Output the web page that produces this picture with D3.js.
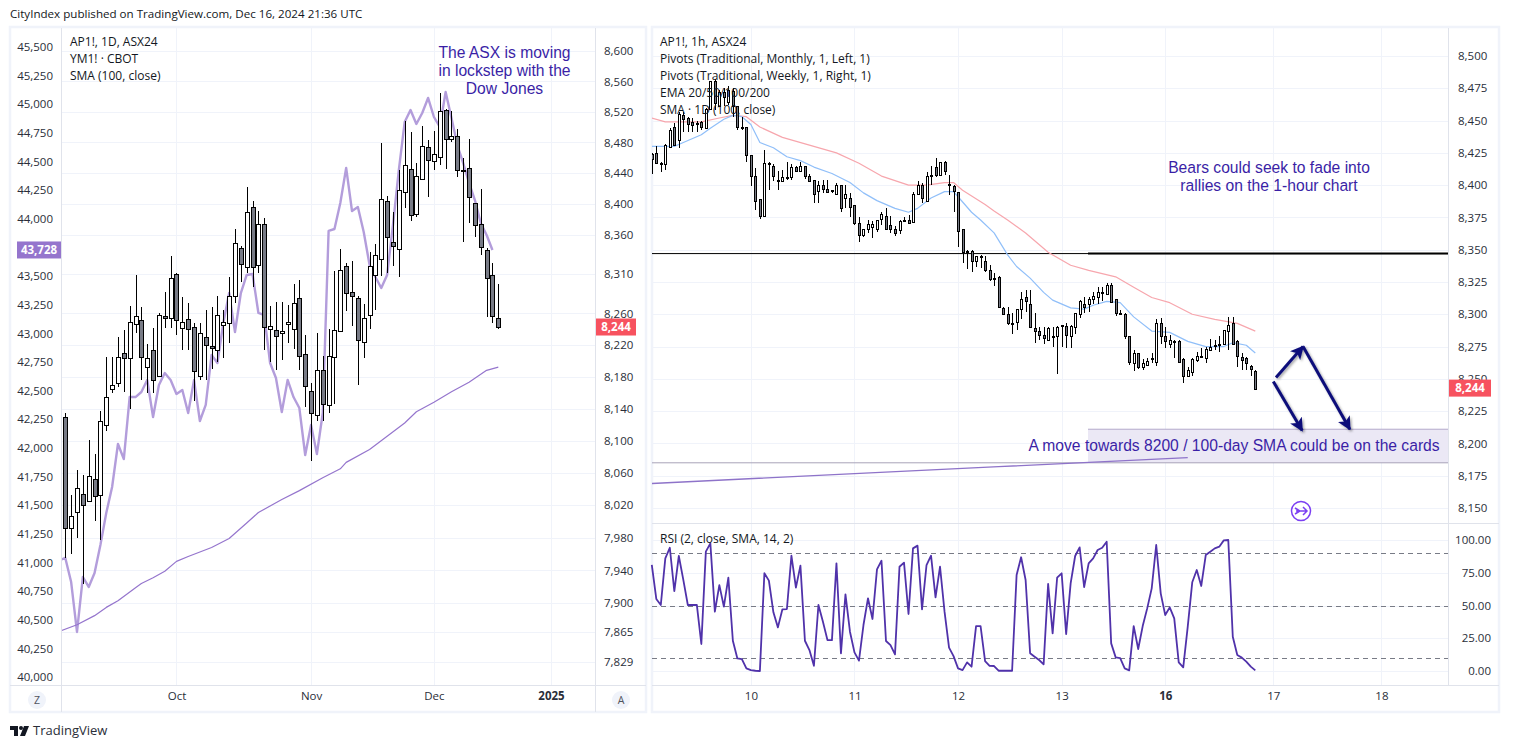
<!DOCTYPE html>
<html>
<head>
<meta charset="utf-8">
<script src="https://cdnjs.cloudflare.com/ajax/libs/d3/7.8.5/d3.min.js"></script>
<style>
    html, body { margin: 0; padding: 0; background: #fff; overflow: hidden; }
    text { font-family: "Open Sans", sans-serif; fill: #131722; }
    .axis text { font-size: 11.5px; fill: #2a2e39; }
    .note { font-family: "Liberation Sans", Arial, sans-serif; font-size: 15.65px; fill: #3a1fa6; }
    .legend { font-size: 12px; }
</style>
</head>
<body>
<div class="chart"></div>
<script>
// daily AP1! candles, one row per bar: open, high, low, close
const dailyOHLC = [
    [8130,8134,7955,7992],[7992,8032,7960,8007],[8012,8064,7980,8041],[8034,8057,7923,8020],[8025,8101,8025,8056],
    [8052,8084,8000,8031],[8033,8137,7977,8125],[8120,8205,8112,8155],[8165,8205,8160,8170],[8172,8230,8167,8205],
    [8210,8239,8161,8204],[8204,8269,8140,8249],[8247,8309,8235,8257],[8251,8268,8176,8204],[8193,8221,8160,8204],
    [8214,8242,8160,8176],[8181,8261,8180,8258],[8257,8287,8242,8254],[8254,8333,8242,8305],[8310,8312,8232,8251],
    [8242,8281,8214,8249],[8253,8273,8214,8240],[8243,8248,8149,8188],[8181,8248,8176,8235],[8230,8264,8176,8220],
    [8219,8268,8190,8216],[8214,8282,8198,8258],[8245,8264,8204,8249],[8248,8306,8223,8282],[8282,8368,8273,8350],
    [8344,8346,8300,8324],[8319,8422,8312,8390],[8396,8404,8294,8319],[8321,8391,8312,8374],[8374,8382,8214,8243],
    [8240,8269,8199,8244],[8239,8274,8189,8232],[8235,8274,8201,8238],[8247,8271,8223,8249],[8240,8298,8215,8273],
    [8280,8303,8188,8206],[8209,8233,8142,8169],[8162,8172,8075,8134],[8132,8235,8124,8188],[8189,8206,8125,8146],
    [8144,8240,8135,8206],[8205,8314,8146,8239],[8238,8342,8238,8315],[8321,8324,8263,8286],[8287,8327,8244,8282],
    [8280,8282,8169,8227],[8224,8272,8203,8254],[8258,8338,8240,8321],[8310,8349,8264,8335],[8329,8479,8308,8406],
    [8404,8410,8312,8357],[8351,8390,8321,8346],[8342,8444,8306,8418],[8415,8508,8395,8450],[8445,8494,8378,8386],
    [8387,8453,8383,8436],[8432,8501,8432,8475],[8474,8483,8409,8457],[8456,8495,8444,8465],[8461,8545,8450,8521],
    [8522,8524,8445,8484],[8484,8521,8480,8488],[8488,8497,8435,8444],[8444,8460,8351,8443],[8447,8484,8375,8409],
    [8402,8402,8357,8373],[8374,8420,8335,8344],[8341,8344,8255,8305],[8309,8324,8248,8257],[8254,8298,8240,8243]
];

// YM1! closes, first value is the bar before the chart edge
const ymClose = [
    41021,41039,40829,40393,40873,40786,40908,41152,41432,41659,42034,41903,42444,42444,42488,42593,42270,42549,42654,42593,
    42471,42506,42305,42593,42235,42375,42811,42741,43091,43352,43012,43352,43510,43518,43178,43160,42741,42610,42313,42593,
    42444,42348,41938,42200,41947,42305,43894,43911,44138,44444,44068,44103,43885,43597,43492,43396,43510,43946,44426,44845,
    44950,44828,44924,45055,44889,44802,45107,44880,44644,44487,44313,44164,43964,43859,43728
];

const smaBars = [-1,2,5,7,9,12,13,15,17,19,21,25,28,31,33,37,40,44,47,48,52,58,60,63,66,69,72,74];
const smaValues = [7866,7874,7885,7895,7903,7919,7924,7931,7939,7951,7957,7968,7979,7998,8011,8027,8038,8054,8065,8073,8089,8122,8136,8148,8161,8173,8188,8192];

// hourly AP1! candles: open, high, low, close
const hourlyOHLC = [
    [8424,8425,8409,8420],
    [8425,8430,8417,8417],[8417,8418,8410,8416],[8416,8432,8412,8431],[8430,8444,8430,8443],[8445,8448,8430,8431],
    [8435,8457,8429,8455],[8454,8457,8441,8451],[8452,8453,8441,8447],[8449,8452,8441,8447],[8448,8450,8441,8448],
    [8449,8450,8443,8445],[8444,8460,8444,8459],[8459,8481,8459,8481],[8481,8482,8458,8464],[8461,8474,8461,8472],
    [8472,8475,8461,8468],[8465,8477,8462,8474],[8473,8475,8453,8461],[8461,8461,8443,8445],[8445,8453,8443,8445],
    [8445,8445,8418,8423],[8423,8423,8399,8407],[8407,8413,8381,8388],[8389,8389,8374,8376],[8376,8427,8376,8417],
    [8417,8418,8396,8416],[8415,8416,8403,8407],[8404,8411,8396,8403],[8403,8412,8403,8406],[8406,8418,8404,8405],
    [8406,8416,8404,8414],[8414,8415,8410,8411],[8411,8418,8411,8415],[8415,8415,8405,8407],[8407,8409,8403,8403],
    [8404,8404,8386,8393],[8395,8403,8386,8400],[8400,8404,8394,8397],[8397,8404,8394,8395],[8396,8396,8394,8395],
    [8393,8402,8393,8400],[8400,8400,8379,8382],[8390,8400,8382,8393],[8390,8394,8375,8383],[8385,8385,8369,8371],
    [8371,8375,8356,8362],[8361,8366,8360,8366],[8366,8373,8363,8370],[8368,8372,8359,8370],[8366,8373,8364,8373],
    [8374,8379,8369,8378],[8376,8382,8366,8366],[8369,8376,8363,8366],[8366,8368,8361,8363],[8365,8373,8362,8372],
    [8373,8375,8372,8373],[8373,8377,8370,8371],[8371,8395,8371,8393],[8393,8403,8392,8400],[8400,8402,8386,8390],
    [8388,8410,8388,8407],[8407,8415,8400,8408],[8414,8421,8406,8408],[8408,8418,8408,8418],[8418,8419,8408,8411],
    [8401,8408,8392,8400],[8399,8400,8379,8395],[8395,8395,8352,8365],[8366,8366,8340,8348],[8349,8350,8335,8348],
    [8349,8350,8333,8341],[8341,8345,8337,8345],[8345,8346,8336,8344],[8341,8345,8333,8334],[8334,8338,8326,8327],
    [8328,8332,8322,8328],[8329,8330,8306,8306],[8305,8306,8300,8300],[8300,8306,8292,8293],[8293,8301,8285,8293],
    [8294,8304,8288,8304],[8304,8317,8296,8312],[8313,8319,8302,8310],[8308,8319,8290,8290],[8289,8301,8278,8287],
    [8287,8290,8280,8284],[8284,8290,8277,8282],[8280,8290,8280,8289],[8283,8290,8275,8282],[8283,8291,8254,8290],
    [8291,8292,8275,8292],[8291,8293,8274,8284],[8283,8292,8274,8291],[8290,8301,8285,8301],[8300,8311,8297,8310],
    [8308,8313,8301,8306],[8308,8313,8302,8312],[8312,8317,8308,8314],[8313,8321,8308,8317],[8317,8321,8310,8317],
    [8316,8324,8316,8323],[8323,8324,8310,8310],[8312,8312,8299,8301],[8301,8303,8300,8300],[8300,8301,8281,8283],
    [8283,8283,8261,8263],[8262,8272,8256,8270],[8270,8270,8258,8259],[8259,8265,8257,8262],[8261,8266,8261,8264],
    [8265,8270,8262,8266],[8263,8296,8260,8293],[8293,8297,8277,8283],[8283,8290,8274,8279],[8277,8284,8274,8280],
    [8279,8280,8266,8279],[8279,8280,8263,8263],[8265,8266,8247,8252],[8252,8259,8252,8257],[8255,8266,8252,8265],
    [8265,8271,8263,8268],[8268,8274,8266,8267],[8266,8275,8262,8273],[8273,8281,8272,8275],[8276,8280,8272,8275],
    [8277,8283,8271,8276],[8277,8288,8276,8288],[8287,8298,8272,8292],[8293,8298,8277,8277],[8279,8280,8259,8267],
    [8267,8270,8257,8265],[8266,8267,8257,8262],[8260,8261,8252,8258],[8256,8257,8241,8242]
];

const emaFastBars = [0,5,7,11,13,16,18,20,22,24,27,30,33,36,40,44,47,50,54,57,59,62,65,67,68,71,73,76,79,81,84,87,89,93,96,98,101,104,107,111,115,119,123,127,129,132,134];
const emaFastValues = [8430,8430,8433,8439,8444,8451,8454,8453,8447,8433,8429,8422,8419,8414,8409,8402,8394,8388,8382,8379,8382,8390,8395,8395,8391,8379,8373,8363,8346,8337,8328,8317,8311,8305,8304,8307,8310,8309,8298,8287,8286,8279,8275,8275,8278,8276,8270];
const emaSlowBars = [0,3,7,11,15,18,21,24,29,35,41,46,51,57,61,65,67,69,74,76,79,83,88,93,97,103,107,111,115,120,125,130,134];
const emaSlowValues = [8452,8449,8449,8449,8452,8454,8453,8445,8437,8431,8425,8417,8407,8400,8400,8402,8402,8396,8385,8380,8373,8363,8348,8338,8334,8329,8321,8313,8309,8300,8296,8293,8287];

// daily SMA drawn on the hourly chart
const dailySmaBars = [0,77,119];
const dailySmaValues = [8169,8182,8189];

// RSI (2), one value per hourly bar
const rsiValues = [
    81,55,50.4,86,94.1,61,87.8,69.5,50.4,50.4,50.4,20.6,91.1,97.4,45.3,65.6,49.1,71.2,23.1,9.6,
    9.1,2,0.7,0.2,0,74.6,69,44.8,33.3,47.1,47.3,88,63.6,80.4,23.1,16,4,50.4,37.6,23.6,
    23.6,82.2,13.5,58.5,30,14.2,7.9,35.1,55.5,39.7,77.6,84.2,22.9,19.8,12.7,79.6,82.7,43.5,93.6,95.7,
    47.1,80.9,88,56.2,79.6,45.3,17.8,11.4,2,0.7,6.6,3.3,34.3,34.3,7.6,4,3.8,0.2,0.2,0.2,
    0.2,73.3,86.8,69.5,13.5,10.9,8.4,5.1,66.4,28.7,71.2,74.6,28.2,66.9,87.8,94.4,64.1,82.2,86,92.4,
    94.1,98.7,21.1,10.4,9.9,2,0.5,34.3,16.8,34.3,47.8,63.1,96.2,59.3,42.7,48.6,40.2,6.6,2.8,33.8,
    67.7,77.1,64.9,88.5,91.1,93.6,94.9,99.7,100,26.2,12.2,10.2,7.1,3.3,0.5
];

// axis ticks
const ymTicks = [45500,45250,45000,44750,44500,44250,44000,43500,43250,43000,42750,42500,42250,42000,41750,41500,41250,41000,40750,40500,40250,40000];
const dailyPriceTicks = [8600,8560,8520,8480,8440,8400,8360,8310,8260,8220,8180,8140,8100,8060,8020,7980,7940,7900,7865,7829];
const hourlyPriceTicks = [8500,8475,8450,8425,8400,8375,8350,8325,8300,8275,8250,8225,8200,8175,8150];
const rsiTicks = [100,75,50,25,0];
const rsiLevels = [90,50,10];
const dailyTimeBars = [19,42,63,83];
const dailyTimeLabels = ['Oct','Nov','Dec','2025'];
const hourlyTimeBars = [22,45,68,91,114,138,162];
const hourlyTimeLabels = ['10','11','12','13','16','17','18'];

const lastYM = 43728;
const lastAP = 8244;
const supportLevel = 8347;
const targetZone = [8211,8185];

const width = 1538, height = 748;
const svg = d3.select('.chart').append('svg')
    .attr('width', width)
    .attr('height', height)
    .style('display', 'block');

const defs = svg.append('defs');
defs.append('clipPath').attr('id', 'clipLeft').append('rect')
    .attr('x', 62).attr('y', 28).attr('width', 533).attr('height', 657);
defs.append('clipPath').attr('id', 'clipRight').append('rect')
    .attr('x', 652).attr('y', 28).attr('width', 796).attr('height', 495);
defs.append('marker').attr('id', 'head')
    .attr('viewBox', '0 0 10 10').attr('refX', 9).attr('refY', 5)
    .attr('markerWidth', 4.5).attr('markerHeight', 4.5).attr('orient', 'auto')
    .attr('markerUnits', 'strokeWidth')
    .append('path').attr('d', 'M0,0 L10,5 L0,10 L2.5,5 z').attr('fill', '#0b0f7a').attr('stroke', 'none');
const shadow = defs.append('filter').attr('id', 'arrowShadow');
shadow.append('feDropShadow').attr('dx', 1.5).attr('dy', 1.5).attr('stdDeviation', 1.2).attr('flood-opacity', 0.35);

//scales
const xDaily = d3.scaleLinear().domain([0, 74]).range([65.3, 498.3]);
const yYM = d3.scaleLinear().domain([40000, 45500]).range([677, 47]);
const yDaily = d3.scaleLog().domain([7829, 8600]).range([662, 51]);
const xHourly = d3.scaleLinear().domain([0, 134]).range([651.8, 1255.3]);
const yHourly = d3.scaleLinear().domain([8150, 8500]).range([508, 56]);
const yRsi = d3.scaleLinear().domain([0, 100]).range([671, 540]);

// panel frames
const frames = svg.append('g');
[[10, 27, 636, 685], [652, 27, 847, 685]].forEach(f => {
    frames.append('rect')
        .attr('x', f[0]).attr('y', f[1]).attr('width', f[2]).attr('height', f[3])
        .attr('fill', '#fff').attr('stroke', '#f0f3fa').attr('stroke-width', 2.5);
});

// grid
const grid = svg.append('g').attr('stroke', '#f0f3fa').attr('shape-rendering', 'crispEdges');
function hLines(values, y, x1, x2) {
    grid.selectAll(null).data(values).enter().append('line')
        .attr('x1', x1).attr('x2', x2)
        .attr('y1', d => Math.round(y(d)) + 0.5)
        .attr('y2', d => Math.round(y(d)) + 0.5);
}
function vLines(values, x, y1, y2) {
    grid.selectAll(null).data(values).enter().append('line')
        .attr('y1', y1).attr('y2', y2)
        .attr('x1', d => Math.round(x(d)) + 0.5)
        .attr('x2', d => Math.round(x(d)) + 0.5);
}
hLines(dailyPriceTicks, yDaily, 62, 595);
vLines(dailyTimeBars, xDaily, 28, 685);
hLines(hourlyPriceTicks, yHourly, 652, 1448);
hLines(rsiTicks, yRsi, 652, 1448);
vLines(hourlyTimeBars, xHourly, 28, 685);

// axis separators
const seps = svg.append('g').attr('stroke', '#e0e3eb').attr('shape-rendering', 'crispEdges');
[[61.5, 28, 61.5, 712], [595.5, 28, 595.5, 712], [10, 685.5, 646, 685.5],
 [1448.5, 28, 1448.5, 685], [652, 685.5, 1499, 685.5], [652, 523.5, 1499, 523.5]].forEach(l => {
    seps.append('line').attr('x1', l[0]).attr('y1', l[1]).attr('x2', l[2]).attr('y2', l[3]);
});

const plotLeft = svg.append('g').attr('clip-path', 'url(#clipLeft)');
const plotRight = svg.append('g').attr('clip-path', 'url(#clipRight)');

// target zone and levels sit behind the candles
plotRight.append('rect')
    .attr('x', 1088)
    .attr('y', yHourly(targetZone[0]))
    .attr('width', 361)
    .attr('height', yHourly(targetZone[1]) - yHourly(targetZone[0]))
    .attr('fill', '#ebe8f5');
plotRight.append('line')
    .attr('x1', 1088).attr('x2', 1448)
    .attr('y1', yHourly(targetZone[0])).attr('y2', yHourly(targetZone[0]))
    .attr('stroke', '#b3aacb');
plotRight.append('line')
    .attr('x1', 652).attr('x2', 1448)
    .attr('y1', yHourly(targetZone[1])).attr('y2', yHourly(targetZone[1]))
    .attr('stroke', '#a8a3b8');
plotRight.append('line')
    .attr('x1', 652).attr('x2', 1448)
    .attr('y1', yHourly(supportLevel)).attr('y2', yHourly(supportLevel))
    .attr('stroke', '#000').attr('stroke-width', 1);
plotRight.append('line')
    .attr('x1', 1088).attr('x2', 1448)
    .attr('y1', yHourly(supportLevel)).attr('y2', yHourly(supportLevel))
    .attr('stroke', '#000').attr('stroke-width', 2);

// lines
function drawLine(g, xs, ys, x, y, color, w) {
    const line = d3.line().x((d, i) => x(xs[i])).y(d => y(d));
    g.append('path').attr('d', line(ys))
        .attr('fill', 'none').attr('stroke', color).attr('stroke-width', w)
        .attr('stroke-linejoin', 'round');
}
drawLine(plotLeft, ymClose.map((d, i) => i - 1), ymClose, xDaily, yYM, '#b39ddb', 2.4);
drawLine(plotLeft, smaBars, smaValues, xDaily, yDaily, '#9575cd', 1.2);

drawLine(plotRight, dailySmaBars, dailySmaValues, xHourly, yHourly, '#8e73c9', 1.4);
drawLine(plotRight, emaSlowBars, emaSlowValues, xHourly, yHourly, '#f7a6ad', 1.2);
drawLine(plotRight, emaFastBars, emaFastValues, xHourly, yHourly, '#90bff9', 1.2);

//creating candles
function drawCandles(g, data, x, y, bodyWidth) {
    const bars = g.selectAll(null).data(data).enter().append('g');
    bars.append('line')
        .attr('x1', (d, i) => Math.round(x(i)) + 0.5)
        .attr('x2', (d, i) => Math.round(x(i)) + 0.5)
        .attr('y1', d => y(d[1]))
        .attr('y2', d => y(d[2]))
        .attr('stroke', '#000')
        .attr('shape-rendering', 'crispEdges');
    bars.append('rect')
        .attr('x', (d, i) => Math.round(x(i)) + 0.5 - bodyWidth / 2)
        .attr('y', d => Math.round(y(Math.max(d[0], d[3]))) + 0.5)
        .attr('width', bodyWidth)
        .attr('height', d => Math.max(1, Math.round(Math.abs(y(d[0]) - y(d[3])))))
        .attr('fill', d => d[3] >= d[0] ? '#fff' : '#787b86')
        .attr('stroke', '#000')
        .attr('shape-rendering', 'crispEdges');
}
drawCandles(plotLeft, dailyOHLC, xDaily, yDaily, 4);
drawCandles(plotRight, hourlyOHLC, xHourly, yHourly, 2);

// rsi pane
const rsiPane = svg.append('g');
rsiPane.selectAll('line').data(rsiLevels).enter().append('line')
    .attr('x1', 652).attr('x2', 1448)
    .attr('y1', d => Math.round(yRsi(d)) + 0.5).attr('y2', d => Math.round(yRsi(d)) + 0.5)
    .attr('stroke', '#787b86').attr('stroke-dasharray', '5,4');
drawLine(rsiPane, rsiValues.map((d, i) => i), rsiValues, xHourly, yRsi, '#5032aa', 1.8);

// price axes
function priceAxis(scale, ticks, xPos, anchor, fmt) {
    const g = svg.append('g').attr('class', 'axis')
        .attr('transform', 'translate(' + xPos + ',0)')
        .call(d3.axisRight(scale).tickValues(ticks).tickFormat(fmt).tickSize(0).tickPadding(0));
    g.select('.domain').remove();
    g.selectAll('text').attr('text-anchor', anchor).attr('font-family', null);
    return g;
}
priceAxis(yYM, ymTicks, 53, 'end', d3.format(','));
priceAxis(yDaily, dailyPriceTicks, 604, 'start', d3.format(','));
priceAxis(yHourly, hourlyPriceTicks, 1458, 'start', d3.format(','));
priceAxis(yRsi, rsiTicks, 1491, 'end', d3.format('.2f'));

// time axes
function timeAxis(scale, bars, labels) {
    const g = svg.append('g').attr('class', 'axis')
        .attr('transform', 'translate(0,692)')
        .call(d3.axisBottom(scale).tickValues(bars).tickFormat((d, i) => labels[i]).tickSize(0).tickPadding(0));
    g.select('.domain').remove();
    g.selectAll('text').attr('font-weight', (d, i) => (labels[i] === '2025' || labels[i] === '16') ? 700 : 400);
}
timeAxis(xDaily, dailyTimeBars, dailyTimeLabels);
timeAxis(xHourly, hourlyTimeBars, hourlyTimeLabels);

// last price labels
function priceLabel(x, w, yPos, txt, color) {
    svg.append('rect').attr('x', x).attr('y', yPos - 8.5).attr('width', w).attr('height', 17).attr('fill', color);
    svg.append('text').attr('x', x + w / 2).attr('y', yPos + 4)
        .attr('text-anchor', 'middle').attr('font-size', 11.5).attr('font-weight', 700)
        .style('fill', '#fff').text(txt);
}
priceLabel(17, 44, yYM(lastYM), d3.format(',')(lastYM), '#9575cd');
priceLabel(596, 40, yDaily(lastAP) + 1, d3.format(',')(lastAP), '#f7525f');
priceLabel(1449, 42, yHourly(lastAP) + 1.5, d3.format(',')(lastAP), '#f7525f');

// legends
function legend(x, lines) {
    svg.append('g').attr('class', 'legend').selectAll('text').data(lines).enter().append('text')
        .attr('x', x)
        .attr('y', (d, i) => 46 + i * 17)
        .text(d => d);
}
legend(70, ['AP1!, 1D, ASX24', 'YM1! \u00b7 CBOT', 'SMA (100, close)']);
legend(660, ['AP1!, 1h, ASX24', 'Pivots (Traditional, Monthly, 1, Left, 1)', 'Pivots (Traditional, Weekly, 1, Right, 1)', 'EMA 20/50/100/200', 'SMA \u00b7 1D (100, close)']);
svg.append('text').attr('class', 'legend').attr('x', 660).attr('y', 543).text('RSI (2, close, SMA, 14, 2)');

// notes
function note(cx, y0, lines) {
    svg.append('g').selectAll('text').data(lines).enter().append('text')
        .attr('class', 'note')
        .attr('x', cx)
        .attr('y', (d, i) => y0 + i * 18)
        .attr('text-anchor', 'middle')
        .text(d => d);
}
note(504.5, 58, ['The ASX is moving', 'in lockstep with the', 'Dow Jones']);
note(1269, 173, ['Bears could seek to fade into', 'rallies on the 1-hour chart']);
note(1234, 451, ['A move towards 8200 / 100-day SMA could be on the cards']);

// arrows
const arrows = svg.append('g').attr('filter', 'url(#arrowShadow)')
    .attr('fill', 'none').attr('stroke', '#0b0f7a').attr('stroke-width', 3);
const arrowPaths = [
    [[138.6, 8251], [144.6, 8275]],
    [[144.6, 8275], [155, 8211]],
    [[138, 8248], [144.4, 8210]]
];
arrowPaths.forEach(p => {
    arrows.append('path')
        .attr('d', d3.line().x(d => xHourly(d[0])).y(d => yHourly(d[1]))(p))
        .attr('marker-end', 'url(#head)');
});

// scroll button and scale buttons
const scroll = svg.append('g').attr('transform', 'translate(1301,511)')
    .attr('fill', 'none').attr('stroke', '#7b3ff2').attr('stroke-width', 1.5);
scroll.append('circle').attr('r', 9.5);
scroll.append('path').attr('d', 'M-6,-3 L-1,0 L-6,3 M-5,0 L6,0 M2,-4 L6,0 L2,4');

[[37, 'Z'], [621, 'A']].forEach(b => {
    svg.append('circle').attr('cx', b[0]).attr('cy', 700).attr('r', 9).attr('fill', '#f0f3fa');
    svg.append('text').attr('x', b[0]).attr('y', 704).attr('text-anchor', 'middle')
        .attr('font-size', 10.5).style('fill', '#50535e').text(b[1]);
});

// header and footer
svg.append('text').attr('x', 10).attr('y', 18).attr('font-size', 11.6).text('CityIndex published on TradingView.com, Dec 16, 2024 21:36 UTC');
const logo = svg.append('g').attr('transform', 'translate(10,726)').attr('fill', '#131722');
logo.append('path').attr('d', 'M0,0 H8 V10 H4 V4 H0 Z');
logo.append('circle').attr('cx', 11).attr('cy', 2).attr('r', 2);
logo.append('path').attr('d', 'M14,0 H19 L15,10 H10 Z');
svg.append('text').attr('x', 33).attr('y', 735).attr('font-size', 13).style('fill', '#2a2e39').text('TradingView');
</script>
</body>
</html>
